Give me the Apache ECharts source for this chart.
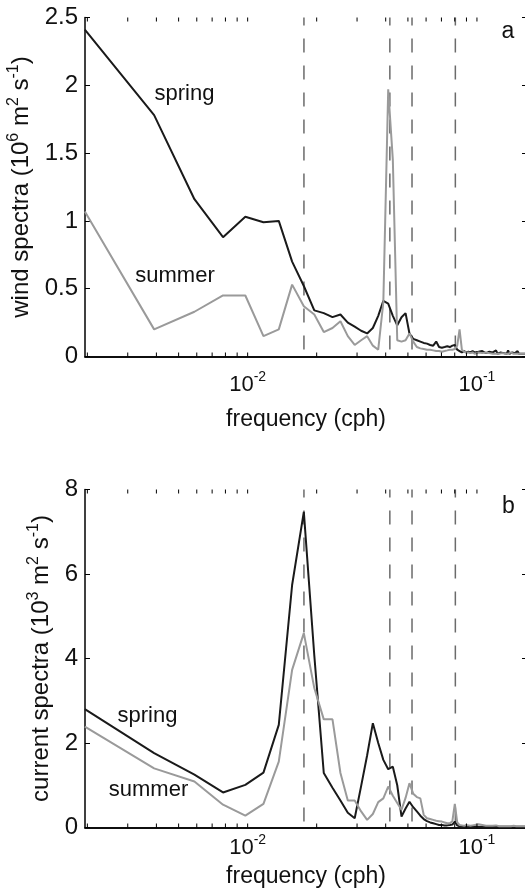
<!DOCTYPE html>
<html>
<head>
<meta charset="utf-8">
<script src="https://cdn.jsdelivr.net/npm/echarts@6/dist/echarts.min.js"></script>
<style>html,body{margin:0;padding:0;background:#fff}#c{width:525px;height:895px}</style>
</head>
<body>
<div id="c"></div>
<script>
// frequency grid (cph)
const freq = [0.00195,0.00391,0.00586,0.00781,0.00977,0.01172,0.01367,0.01563,0.01758,0.01953,
0.02148,0.02344,0.02539,0.02734,0.02930,0.03125,0.03320,0.03516,0.03711,0.03906,
0.04102,0.04297,0.04492,0.04688,0.04883,0.05078,0.05273,0.05469,0.05664,0.05859,
0.06055,0.06250,0.06445,0.06641,0.06836,0.07031,0.07227,0.07422,0.07617,0.07813,
0.08008,0.08203,0.08398,0.08594,0.08789,0.08984,0.09180,0.09375,0.09570,0.09766,
0.09961,0.10156,0.10352,0.10547,0.10742,0.10938,0.11133,0.11328,0.11523,0.11719,
0.11914,0.12109,0.12305,0.12500,0.12695,0.12891,0.13086,0.13281,0.13477,0.13672,
0.13867,0.14063,0.14258,0.14453,0.14648,0.14844,0.15039,0.15234,0.15430,0.15625,
0.15820,0.16016,0.16211,0.16406];

// panel a: wind spectra (10^6 m^2 s^-1)
const windSpring = [2.41,1.78,1.16,0.88,1.03,0.99,1.00,0.70,0.52,0.34,
0.32,0.29,0.31,0.25,0.22,0.19,0.17,0.21,0.30,0.41,
0.39,0.30,0.23,0.29,0.32,0.17,0.13,0.12,0.11,0.10,
0.095,0.085,0.08,0.11,0.07,0.065,0.07,0.075,0.07,0.08,
0.085,0.05,0.04,0.03,0.04,0.03,0.035,0.03,0.04,0.03,
0.03,0.035,0.025,0.04,0.03,0.025,0.03,0.035,0.025,0.03,
0.025,0.045,0.02,0.025,0.03,0.02,0.025,0.03,0.02,0.045,
0.02,0.025,0.03,0.02,0.025,0.02,0.04,0.02,0.03,0.02,
0.025,0.02,0.02,0.02];
const windSummer = [1.07,0.20,0.33,0.45,0.45,0.15,0.20,0.53,0.37,0.31,
0.18,0.21,0.26,0.15,0.085,0.12,0.15,0.08,0.05,0.40,
1.97,1.45,0.12,0.11,0.12,0.17,0.11,0.07,0.06,0.055,
0.05,0.05,0.045,0.04,0.04,0.035,0.04,0.045,0.05,0.05,
0.055,0.08,0.20,0.05,0.035,0.03,0.03,0.025,0.03,0.02,
0.025,0.03,0.02,0.025,0.02,0.03,0.02,0.025,0.02,0.02,
0.025,0.02,0.03,0.02,0.02,0.025,0.02,0.02,0.025,0.02,
0.02,0.03,0.02,0.02,0.025,0.02,0.02,0.02,0.025,0.02,
0.02,0.02,0.02,0.02];

// panel b: current spectra (10^3 m^2 s^-1)
const curSpring = [2.80,1.76,1.25,0.83,1.01,1.30,2.43,5.74,7.47,4.07,
1.29,0.94,0.64,0.35,0.22,0.98,1.71,2.47,2.00,1.60,
1.38,1.44,1.00,0.26,0.45,0.61,0.48,0.38,0.28,0.20,
0.15,0.12,0.10,0.08,0.06,0.06,0.05,0.05,0.06,0.07,
0.14,0.05,0.03,0.02,0.02,0.03,0.02,0.02,0.02,0.03,
0.02,0.02,0.02,0.02,0.02,0.02,0.02,0.02,0.02,0.02,
0.02,0.02,0.02,0.02,0.02,0.02,0.02,0.02,0.02,0.02,
0.02,0.02,0.02,0.02,0.02,0.02,0.02,0.02,0.02,0.02,
0.02,0.02,0.02,0.02];
const curSummer = [2.39,1.40,1.09,0.54,0.28,0.56,1.56,3.73,4.60,3.30,
2.56,2.56,1.29,0.64,0.64,0.38,0.18,0.32,0.60,0.69,
0.97,0.75,0.58,0.42,0.70,1.05,0.80,0.72,0.69,0.30,
0.22,0.20,0.18,0.16,0.15,0.14,0.12,0.10,0.10,0.15,
0.56,0.12,0.06,0.05,0.04,0.06,0.05,0.04,0.05,0.06,
0.05,0.08,0.10,0.06,0.04,0.04,0.03,0.04,0.03,0.04,
0.03,0.05,0.03,0.03,0.04,0.03,0.03,0.03,0.04,0.03,
0.03,0.03,0.03,0.04,0.03,0.03,0.03,0.03,0.03,0.03,
0.03,0.03,0.03,0.03];

// reference frequencies (dashed lines)
const refFreq = [0.0176, 0.0417, 0.0521, 0.0805];
// x ticks (log axis, major + minor)
const xTicks = [0.002,0.003,0.004,0.005,0.006,0.007,0.008,0.009,0.01,
0.02,0.03,0.04,0.05,0.06,0.07,0.08,0.09,0.1];
const xMin = 0.001953, xMax = 0.1653;
const yRangeA = [0, 2.5, 0.5];
const yRangeB = [0, 8, 2];

const FONT = "'Liberation Sans', Arial, Helvetica, sans-serif";
const BLACK = '#1a1a1a', GREY = '#9a9a9a';

const xRich = {
  b: {fontSize: 22, fontFamily: FONT, color: '#111', lineHeight: 22, padding: [7,0,0,0]},
  s: {fontSize: 14, fontFamily: FONT, color: '#111', lineHeight: 14, verticalAlign: 'top'}
};
const yRich = {
  b: {fontSize: 24, fontFamily: FONT, color: '#111', lineHeight: 24, padding: [8,0,0,0]},
  s: {fontSize: 16, fontFamily: FONT, color: '#111', lineHeight: 16, verticalAlign: 'top'}
};

function xLabel(v){
  const e = Math.log10(v);
  if (Math.abs(e - Math.round(e)) > 1e-6) return '';
  return '{b|10}{s|' + Math.round(e) + '}';
}

function xAxes(gi, labelMargin, nameGap){
  return [{
    type: 'log', logBase: 10, gridIndex: gi, min: xMin, max: xMax, position: 'bottom',
    axisLine: {lineStyle: {color: '#000', width: 1.5}},
    axisTick: {show: false}, splitLine: {show: false},
    axisLabel: {formatter: xLabel, rich: xRich, margin: labelMargin, showMinLabel: false, showMaxLabel: false},
    name: 'frequency (cph)', nameLocation: 'middle', nameGap: nameGap,
    nameTextStyle: {fontSize: 23, fontFamily: FONT, color: '#111'}
  },{
    type: 'log', logBase: 10, gridIndex: gi, min: xMin, max: xMax, position: 'top',
    axisLine: {lineStyle: {color: '#000', width: 1.5}},
    axisTick: {show: false}, axisLabel: {show: false}, splitLine: {show: false}
  }];
}

function yAxes(gi, r, name, nameGap){
  return [{
    type: 'value', gridIndex: gi, min: r[0], max: r[1], interval: r[2], position: 'left',
    axisLine: {show: true, lineStyle: {color: '#000', width: 1.5}},
    axisTick: {show: true, inside: true, length: 5, lineStyle: {color: '#000'}},
    splitLine: {show: false},
    axisLabel: {fontSize: 24, fontFamily: FONT, color: '#111', margin: 7},
    name: name, nameLocation: 'middle', nameGap: nameGap,
    nameTextStyle: {rich: yRich}
  },{
    type: 'value', gridIndex: gi, min: r[0], max: r[1], interval: r[2], position: 'right',
    axisLine: {show: true, lineStyle: {color: '#000', width: 1.5}},
    axisTick: {show: true, inside: true, length: 5, lineStyle: {color: '#000'}},
    axisLabel: {show: false}, splitLine: {show: false}
  }];
}

function tickSeries(xi, yi){
  return {
    type: 'custom', coordinateSystem: 'cartesian2d', xAxisIndex: xi, yAxisIndex: yi,
    silent: true, animation: false, z: 5,
    data: xTicks.map(v => [v, 0]),
    renderItem: function(params, api){
      const cs = params.coordSys;
      const x = api.coord([api.value(0), 0])[0];
      const yb = cs.y + cs.height, yt = cs.y;
      return {type: 'group', children: [
        {type: 'line', shape: {x1: x, y1: yb, x2: x, y2: yb - 4}, style: {stroke: '#000', lineWidth: 1}},
        {type: 'line', shape: {x1: x, y1: yt, x2: x, y2: yt + 4}, style: {stroke: '#000', lineWidth: 1}}
      ]};
    }
  };
}

function dashSeries(xi, yi){
  return {
    type: 'custom', coordinateSystem: 'cartesian2d', xAxisIndex: xi, yAxisIndex: yi,
    silent: true, animation: false, z: 2,
    data: refFreq.map(v => [v, 0]),
    renderItem: function(params, api){
      const cs = params.coordSys;
      const x = api.coord([api.value(0), 0])[0];
      return {type: 'line', shape: {x1: x, y1: cs.y, x2: x, y2: cs.y + cs.height},
        style: {stroke: '#6b6b6b', lineWidth: 1.5, lineDash: [14, 13], lineDashOffset: 6}};
    }
  };
}

function lineSeries(xi, yi, ys, color){
  return {
    type: 'line', xAxisIndex: xi, yAxisIndex: yi,
    data: freq.map((f, i) => [f, ys[i]]),
    showSymbol: false, symbol: 'none', animation: false,
    lineStyle: {color: color, width: 2}, z: 3
  };
}

const chart = echarts.init(document.getElementById('c'), null, {renderer: 'canvas'});
chart.setOption({
  backgroundColor: '#fff',
  animation: false,
  grid: [
    {left: 85, top: 17.5, width: 442, height: 339, containLabel: false, outerBoundsMode: 'none'},
    {left: 85, top: 489.5, width: 442, height: 338, containLabel: false, outerBoundsMode: 'none'}
  ],
  xAxis: [].concat(xAxes(0, 14, 52), xAxes(1, 6, 38)),
  yAxis: [].concat(
    yAxes(0, yRangeA, '{b|wind spectra (10}{s|6}{b| m}{s|2}{b| s}{s|-1}{b|)}', 43),
    yAxes(1, yRangeB, '{b|current spectra (10}{s|3}{b| m}{s|2}{b| s}{s|-1}{b|)}', 29)
  ),
  series: [
    dashSeries(0, 0),
    lineSeries(0, 0, windSpring, BLACK),
    lineSeries(0, 0, windSummer, GREY),
    tickSeries(0, 0),
    dashSeries(2, 2),
    lineSeries(2, 2, curSpring, BLACK),
    lineSeries(2, 2, curSummer, GREY),
    tickSeries(2, 2)
  ],
  graphic: [
    {type: 'text', x: 184.5, y: 94, style: {text: 'spring', fontSize: 22, fontFamily: FONT, fill: '#111', align: 'center', verticalAlign: 'middle'}},
    {type: 'text', x: 175, y: 276, style: {text: 'summer', fontSize: 22, fontFamily: FONT, fill: '#111', align: 'center', verticalAlign: 'middle'}},
    {type: 'text', x: 508, y: 32, style: {text: 'a', fontSize: 23, fontFamily: FONT, fill: '#111', align: 'center', verticalAlign: 'middle'}},
    {type: 'text', x: 147.5, y: 715.5, style: {text: 'spring', fontSize: 22, fontFamily: FONT, fill: '#111', align: 'center', verticalAlign: 'middle'}},
    {type: 'text', x: 148.5, y: 789.5, style: {text: 'summer', fontSize: 22, fontFamily: FONT, fill: '#111', align: 'center', verticalAlign: 'middle'}},
    {type: 'text', x: 508.5, y: 507, style: {text: 'b', fontSize: 23, fontFamily: FONT, fill: '#111', align: 'center', verticalAlign: 'middle'}}
  ]
});
</script>
</body>
</html>
